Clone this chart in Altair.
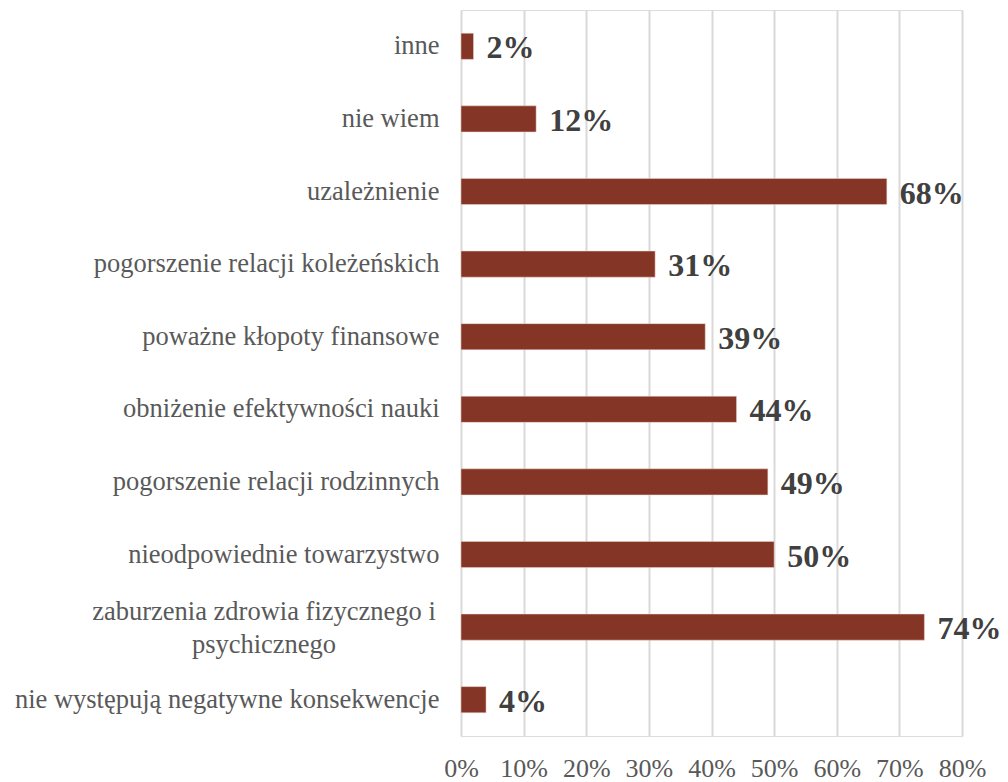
import altair as alt
import pandas as pd

categories = [
    "inne",
    "nie wiem",
    "uzależnienie",
    "pogorszenie relacji koleżeńskich",
    "poważne kłopoty finansowe",
    "obniżenie efektywności nauki",
    "pogorszenie relacji rodzinnych",
    "nieodpowiednie towarzystwo",
    "zaburzenia zdrowia fizycznego i psychicznego",
    "nie występują negatywne konsekwencje",
]
values = [0.02, 0.12, 0.68, 0.31, 0.39, 0.44, 0.49, 0.50, 0.74, 0.04]
value_labels = ["2%", "12%", "68%", "31%", "39%", "44%", "49%", "50%", "74%", "4%"]
tick_values = [0, 0.1, 0.2, 0.3, 0.4, 0.5, 0.6, 0.7, 0.8]

wrapped_cat = "zaburzenia zdrowia fizycznego i psychicznego"
wrapped_lines = ["zaburzenia zdrowia fizycznego i", "psychicznego"]

df = pd.DataFrame({"cat": categories, "val": values, "lab": value_labels})

FONT = "Liberation Serif"
LABEL_SIZE = 26.5

y_enc = alt.Y(
    "cat:N",
    sort=None,
    title=None,
    scale=alt.Scale(paddingInner=0.64, paddingOuter=0.32),
    axis=alt.Axis(
        domain=False,
        ticks=False,
        labelFont=FONT,
        labelFontSize=LABEL_SIZE,
        labelColor="#595959",
        labelPadding=22,
        labelLimit=600,
        labelExpr=f"datum.value == '{wrapped_cat}' ? '' : datum.value",
    ),
)

x_enc = alt.X(
    "val:Q",
    title=None,
    scale=alt.Scale(domain=[0, 0.8], nice=False),
    axis=alt.Axis(
        values=tick_values,
        format="%",
        domain=False,
        ticks=False,
        grid=True,
        gridColor="#d9d9d9",
        gridWidth=2,
        labelFont=FONT,
        labelFontSize=26,
        labelColor="#595959",
        labelPadding=19,
        labelFlush=False,
    ),
)

bars = alt.Chart(df).mark_bar(color="#843526", stroke="#f0d8d0", strokeWidth=0.5).encode(
    x=x_enc, y=y_enc
)

labels = alt.Chart(df).mark_text(
    align="left", baseline="middle", dx=13, dy=2,
    font=FONT, fontSize=32, fontWeight="bold", color="#404040",
).encode(x="val:Q", y=alt.Y("cat:N", sort=None), text="lab:N")

wrap_df = pd.DataFrame({"cat": [wrapped_cat], "txt": [wrapped_lines]})
wrap_text = alt.Chart(wrap_df).mark_text(
    align="center", baseline="middle", font=FONT, fontSize=LABEL_SIZE, color="#595959",
    lineHeight=33, dy=-15,
).encode(
    x=alt.value(-197),
    y=alt.Y("cat:N", sort=None),
    text="txt",
)

chart = (
    alt.layer(bars, labels, wrap_text)
    .properties(
        width=501,
        height=726,
        padding={"left": 453, "top": 2, "right": 38, "bottom": 46},
        autosize=alt.AutoSizeParams(type="none"),
    )
    .configure_view(stroke=None)
    .configure(background="white")
)

chart.save("out.html", embed_options={"renderer": "svg", "actions": False})
